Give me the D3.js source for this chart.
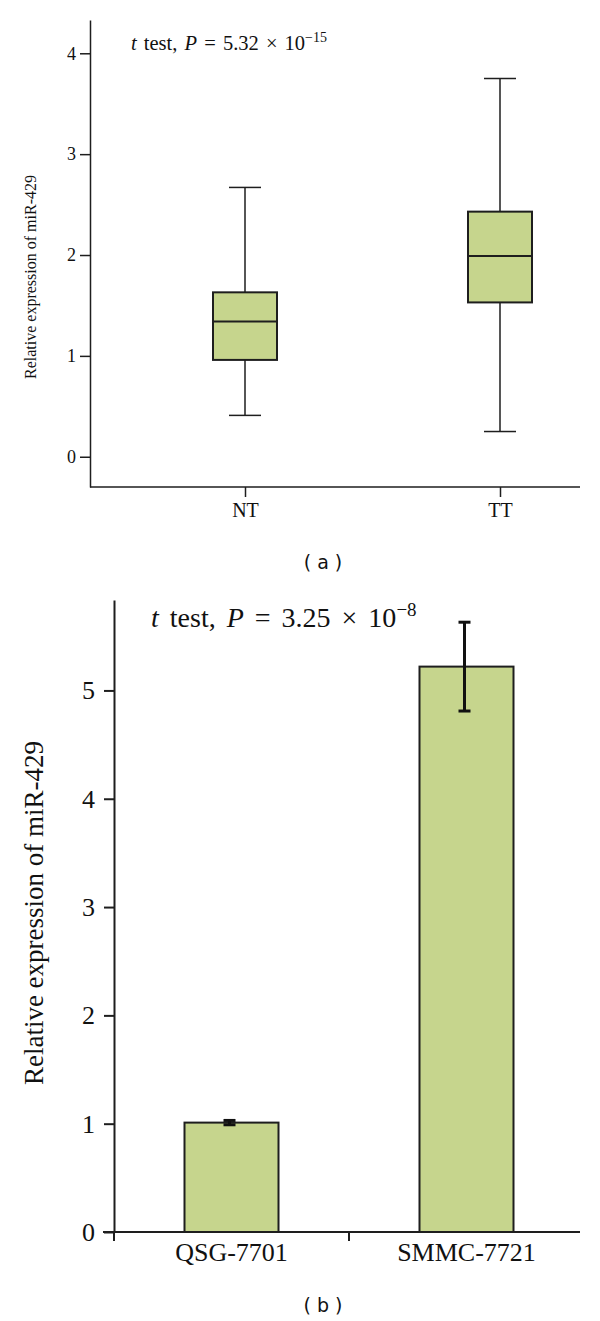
<!DOCTYPE html>
<html>
<head>
<meta charset="utf-8">
<script src="https://cdn.jsdelivr.net/npm/d3@7"></script>
<style>
	body { margin: 0; background: #fff; }
	#chart { width: 600px; height: 1321px; }
	text { font-family: "Liberation Serif", "Times New Roman", serif; fill: #111; }
	.panel_tag { font-family: "DejaVu Sans", sans-serif; }
</style>
</head>
<body>
<div id="chart"></div>
<script>
const container = "#chart";

// panel (a) - box plot
const groups_a = ["NT", "TT"];
const whisker_low = [0.41, 0.25];
const q1 = [0.96, 1.53];
const median = [1.34, 1.99];
const q3 = [1.63, 2.43];
const whisker_high = [2.67, 3.75];
const ticks_a = [0, 1, 2, 3, 4];

// panel (b) - bar chart
const groups_b = ["QSG-7701", "SMMC-7721"];
const mean_b = [1.01, 5.22];
const err_b = [0.02, 0.41];
const ticks_b = [0, 1, 2, 3, 4, 5];

const y_label = "Relative expression of miR-429";

let c_fill = '#c6d58d',
	c_line = '#1e1e1e';

let width = 600,
	height = 1321;

function draw() {

	let svg = d3.select(container)
		.append("svg")
		.attr("width", width)
		.attr("height", height)

	// ---------------------------
	// panel a
	// ---------------------------
	let pa = svg.append("g").attr("id", "panel_a")

	let y_a = d3.scaleLinear()
		.domain([-0.3, 4.33])
		.range([487, 20])

	let x_a = d3.scalePoint()
		.domain(groups_a)
		.range([245, 500])

	let x_line_a = [90, 580]

	// y axis
	let y_axis_a = pa.append("g")
		.attr("transform", "translate(90,0)")
		.call(d3.axisLeft(y_a)
			.tickValues(ticks_a)
			.tickFormat(d3.format("d"))
			.tickSize(10)
			.tickSizeOuter(0)
			.tickPadding(4)
		)
	y_axis_a.selectAll("text").style("font-size", "18px")

	// x axis
	let x_axis_a = pa.append("g")
		.attr("transform", "translate(0," + y_a.range()[0] + ")")
		.call(d3.axisBottom(x_a)
			.tickSize(10)
			.tickSizeOuter(0)
			.tickPadding(6)
		)
	x_axis_a.select(".domain").remove()
	x_axis_a.append("line")
		.attr("x1", x_line_a[0])
		.attr("x2", x_line_a[1])
		.attr("stroke", c_line)
	x_axis_a.selectAll("text").style("font-size", "20px")

	pa.selectAll(".domain, .tick line, line")
		.attr("stroke", c_line)
		.attr("stroke-width", 1.5)

	// boxes
	let box_w = 64,
		cap_w = 32;

	let boxes = pa.append("g")
		.attr("id", "boxes")
		.selectAll("g")
		.data(groups_a)
		.enter()
		.append("g")
		.attr("transform", d => "translate(" + x_a(d) + ",0)")

	boxes.append("line")
		.attr("x1", 0).attr("x2", 0)
		.attr("y1", (d, i) => y_a(whisker_high[i]))
		.attr("y2", (d, i) => y_a(whisker_low[i]))
	boxes.append("line")
		.attr("x1", -cap_w / 2).attr("x2", cap_w / 2)
		.attr("y1", (d, i) => y_a(whisker_high[i]))
		.attr("y2", (d, i) => y_a(whisker_high[i]))
	boxes.append("line")
		.attr("x1", -cap_w / 2).attr("x2", cap_w / 2)
		.attr("y1", (d, i) => y_a(whisker_low[i]))
		.attr("y2", (d, i) => y_a(whisker_low[i]))
	boxes.append("rect")
		.attr("x", -box_w / 2)
		.attr("width", box_w)
		.attr("y", (d, i) => y_a(q3[i]))
		.attr("height", (d, i) => y_a(q1[i]) - y_a(q3[i]))
		.attr("fill", c_fill)
		.attr("stroke", c_line)
		.attr("stroke-width", 2)
	boxes.append("line")
		.attr("x1", -box_w / 2).attr("x2", box_w / 2)
		.attr("y1", (d, i) => y_a(median[i]))
		.attr("y2", (d, i) => y_a(median[i]))
		.attr("stroke-width", 2)

	boxes.selectAll("line")
		.attr("stroke", c_line)
		.filter(function() { return !this.getAttribute("stroke-width") })
		.attr("stroke-width", 1.5)

	// y label
	pa.append("text")
		.attr("transform", "translate(36,277) rotate(-90)")
		.attr("text-anchor", "middle")
		.style("font-size", "16px")
		.text(y_label)

	// title
	let t_a = pa.append("text")
		.attr("x", 131)
		.attr("y", 50)
		.style("font-size", "20.5px")
		.style("word-spacing", "2px")
	t_a.append("tspan").style("font-style", "italic").text("t")
	t_a.append("tspan").text(" test, ")
	t_a.append("tspan").style("font-style", "italic").text("P")
	t_a.append("tspan").text(" = 5.32 \u00d7 10")
	t_a.append("tspan").attr("dy", -8).style("font-size", "14px").text("\u221215")

	pa.append("text")
		.attr("class", "panel_tag")
		.attr("x", 323)
		.attr("y", 569)
		.attr("text-anchor", "middle")
		.style("font-size", "19px")
		.style("white-space", "pre")
		.text("( a )")

	// ---------------------------
	// panel b
	// ---------------------------
	let pb = svg.append("g").attr("id", "panel_b")

	let y_b = d3.scaleLinear()
		.domain([0, 5.835])
		.range([1232, 600])

	let x_b = d3.scaleBand()
		.domain(groups_b)
		.range([114, 584])
		.paddingInner(0.6)
		.paddingOuter(0.3)

	let x_line_b = [103, 580]

	let y_axis_b = pb.append("g")
		.attr("transform", "translate(" + x_b.range()[0] + ",0)")
		.call(d3.axisLeft(y_b)
			.tickValues(ticks_b)
			.tickFormat(d3.format("d"))
			.tickSize(10)
			.tickSizeOuter(0)
			.tickPadding(9)
		)
	y_axis_b.selectAll("text").style("font-size", "26px")

	// x axis with ticks at the group boundaries
	let x_axis_b = pb.append("g")
		.attr("transform", "translate(0," + y_b(0) + ")")
	x_axis_b.append("line")
		.attr("x1", x_line_b[0])
		.attr("x2", x_line_b[1])
	x_axis_b.selectAll(".bound")
		.data(groups_b)
		.enter()
		.append("line")
		.attr("class", "bound")
		.attr("x1", (d, i) => x_b.range()[0] + i * x_b.step())
		.attr("x2", (d, i) => x_b.range()[0] + i * x_b.step())
		.attr("y1", 0)
		.attr("y2", 9)
	x_axis_b.selectAll(".lab")
		.data(groups_b)
		.enter()
		.append("text")
		.attr("class", "lab")
		.attr("x", d => x_b(d) + x_b.bandwidth() / 2)
		.attr("y", 29)
		.attr("text-anchor", "middle")
		.style("font-size", "26px")
		.text(d => d)

	pb.selectAll(".domain, .tick line, line")
		.attr("stroke", c_line)
		.attr("stroke-width", 2)

	// bars
	let bars = pb.append("g")
		.attr("id", "bars")
		.selectAll("g")
		.data(groups_b)
		.enter()
		.append("g")

	bars.append("rect")
		.attr("x", d => x_b(d))
		.attr("width", x_b.bandwidth())
		.attr("y", (d, i) => y_b(mean_b[i]))
		.attr("height", (d, i) => y_b(0) - y_b(mean_b[i]))
		.attr("fill", c_fill)
		.attr("stroke", c_line)
		.attr("stroke-width", 2)

	// error bars
	let e_cap = 12
	let errs = bars.append("g")
		.attr("transform", d => "translate(" + (x_b(d) + x_b.bandwidth() / 2 - 2) + ",0)")
	errs.append("line")
		.attr("y1", (d, i) => y_b(mean_b[i] + err_b[i]))
		.attr("y2", (d, i) => y_b(mean_b[i] - err_b[i]))
	errs.append("line")
		.attr("x1", -e_cap / 2).attr("x2", e_cap / 2)
		.attr("y1", (d, i) => y_b(mean_b[i] + err_b[i]))
		.attr("y2", (d, i) => y_b(mean_b[i] + err_b[i]))
	errs.append("line")
		.attr("x1", -e_cap / 2).attr("x2", e_cap / 2)
		.attr("y1", (d, i) => y_b(mean_b[i] - err_b[i]))
		.attr("y2", (d, i) => y_b(mean_b[i] - err_b[i]))
	errs.selectAll("line")
		.attr("stroke", "#111")
		.attr("stroke-width", 3)

	// y label
	pb.append("text")
		.attr("transform", "translate(43,913) rotate(-90)")
		.attr("text-anchor", "middle")
		.style("font-size", "27px")
		.text(y_label)

	// title
	let t_b = pb.append("text")
		.attr("x", 151)
		.attr("y", 627)
		.style("font-size", "28px")
		.style("word-spacing", "4px")
	t_b.append("tspan").style("font-style", "italic").text("t")
	t_b.append("tspan").text(" test, ")
	t_b.append("tspan").style("font-style", "italic").text("P")
	t_b.append("tspan").text(" = 3.25 \u00d7 10")
	t_b.append("tspan").attr("dy", -11).style("font-size", "19px").text("\u22128")

	pb.append("text")
		.attr("class", "panel_tag")
		.attr("x", 323)
		.attr("y", 1312)
		.attr("text-anchor", "middle")
		.style("font-size", "19px")
		.style("white-space", "pre")
		.text("( b )")
}

window.onload = function() {
	draw();
}
</script>
</body>
</html>
